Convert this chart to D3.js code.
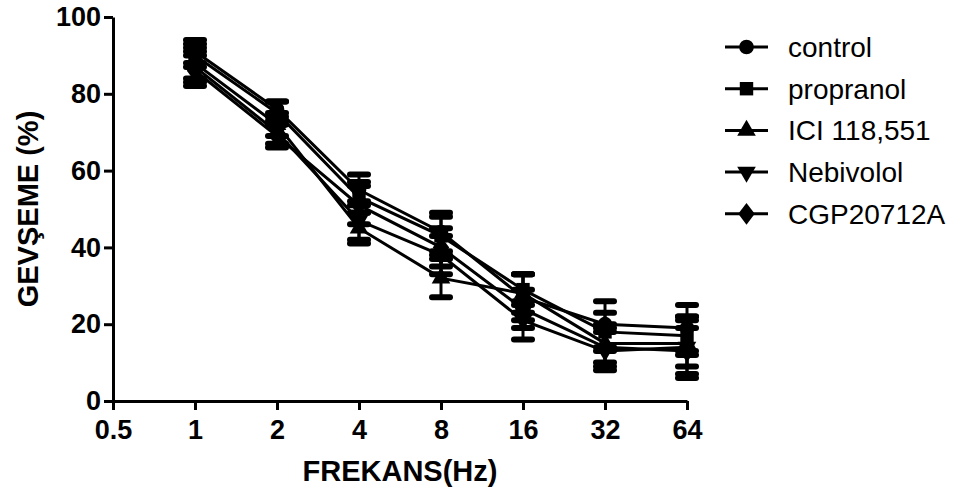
<!DOCTYPE html>
<html>
<head>
<meta charset="utf-8">
<script src="https://cdn.jsdelivr.net/npm/d3@7"></script>
<style>
  body { margin: 0; background: #fff; }
  text { font-family: Arial, "Liberation Sans", sans-serif; }
  .tick text { font-weight: bold; font-size: 27px; }
  .axisTitle { font-weight: bold; font-size: 29px; }
  .legendText { font-size: 28px; }
</style>
</head>
<body>
<div class="chart"></div>
<script>
// Data
let frequencies = [1, 2, 4, 8, 16, 32, 64];
let xTicks = [0.5, 1, 2, 4, 8, 16, 32, 64];
let yTicks = [0, 20, 40, 60, 80, 100];

let seriesNames = ["control", "propranol", "ICI 118,551", "Nebivolol", "CGP20712A"];
let seriesSymbols = ["circle", "square", "triangleUp", "triangleDown", "diamond"];

let controlMean = [91, 76, 55, 44, 27, 20, 19];
let controlErr = [3, 2, 4, 5, 6, 6, 6];
let propranolMean = [90, 75, 53, 43, 29, 18, 17];
let propranolErr = [3, 3, 4, 5, 4, 5, 5];
let iciMean = [88, 72, 45, 32, 28, 15, 15];
let iciErr = [4, 3, 4, 5, 5, 5, 6];
let nebivololMean = [87, 70, 47, 38, 21, 13, 14];
let nebivololErr = [4, 3, 5, 5, 5, 5, 8];
let cgpMean = [86, 69, 51, 40, 24, 14, 13];
let cgpErr = [4, 3, 5, 5, 5, 5, 6];

let means = [controlMean, propranolMean, iciMean, nebivololMean, cgpMean];
let errs = [controlErr, propranolErr, iciErr, nebivololErr, cgpErr];

// Set up chart
let svgWidth = 970;
let svgHeight = 496;
let margin = { top: 17, right: 283, bottom: 95, left: 113 };
let chartWidth = svgWidth - margin.left - margin.right;
let chartHeight = svgHeight - margin.top - margin.bottom;

let svg = d3.select(".chart")
  .append("svg")
  .attr("width", svgWidth)
  .attr("height", svgHeight);

let chart = svg.append("g")
  .attr("transform", `translate(${margin.left}, ${margin.top})`);

// Scales
let xScale = d3.scaleLog().base(2).domain([0.5, 64]).range([0, chartWidth]);
let yScale = d3.scaleLinear().domain([0, 100]).range([chartHeight, 0]);

let symbolTypes = {
  circle: d3.symbolCircle,
  square: d3.symbolSquare,
  triangleUp: d3.symbolTriangle,
  triangleDown: d3.symbolTriangle,
  diamond: d3.symbolDiamond
};
let symbolSizes = { circle: 170, square: 180, triangleUp: 150, triangleDown: 150, diamond: 150 };

function symbolPath(name) {
  return d3.symbol().type(symbolTypes[name]).size(symbolSizes[name])();
}
function symbolTransform(name, x, y) {
  let t = `translate(${x},${y})`;
  if (name === "triangleDown") t += " rotate(180)";
  if (name === "diamond") t += " scale(1.25,0.95)";
  return t;
}

let line = d3.line()
  .x((d, i) => xScale(frequencies[i]))
  .y(d => yScale(d));

// Error bars
means.forEach(function(series, s) {
  let g = chart.append("g");
  series.forEach(function(m, i) {
    let x = xScale(frequencies[i]);
    let top = yScale(m + errs[s][i]);
    let bottom = yScale(m - errs[s][i]);
    g.append("line")
      .attr("x1", x).attr("x2", x)
      .attr("y1", top).attr("y2", bottom)
      .attr("stroke", "#000").attr("stroke-width", 3);
    [top, bottom].forEach(function(y) {
      g.append("line")
        .attr("x1", x - 9).attr("x2", x + 9)
        .attr("y1", y).attr("y2", y)
        .attr("stroke", "#000").attr("stroke-width", 6)
        .attr("stroke-linecap", "round");
    });
  });
});

// Lines
means.forEach(function(series) {
  chart.append("path")
    .datum(series)
    .attr("d", line)
    .attr("fill", "none")
    .attr("stroke", "#000")
    .attr("stroke-width", 3);
});

// Markers
means.forEach(function(series, s) {
  chart.selectAll(null)
    .data(series)
    .enter().append("path")
    .attr("d", symbolPath(seriesSymbols[s]))
    .attr("transform", (d, i) => symbolTransform(seriesSymbols[s], xScale(frequencies[i]), yScale(d)))
    .attr("fill", "#000");
});

// Axes
let xAxis = chart.append("g")
  .attr("transform", `translate(0, ${chartHeight})`)
  .call(d3.axisBottom(xScale).tickValues(xTicks).tickFormat(d3.format("")).tickSize(9).tickSizeOuter(0).tickPadding(10));

let yAxis = chart.append("g")
  .call(d3.axisLeft(yScale).tickValues(yTicks).tickSize(9).tickSizeOuter(0).tickPadding(3));

[xAxis, yAxis].forEach(function(ax) {
  ax.select(".domain").attr("stroke-width", 3);
  ax.selectAll(".tick line").attr("stroke-width", 3);
  ax.selectAll(".tick text").attr("fill", "#000");
});
xAxis.select(".tick line").attr("y1", -8);

// Axis titles
svg.append("text")
  .attr("class", "axisTitle")
  .attr("transform", `translate(38, ${margin.top + chartHeight / 2}) rotate(-90)`)
  .attr("text-anchor", "middle")
  .text("GEVŞEME (%)");

svg.append("text")
  .attr("class", "axisTitle")
  .attr("x", margin.left + chartWidth / 2)
  .attr("y", 481)
  .attr("text-anchor", "middle")
  .text("FREKANS(Hz)");

// Legend
let legend = svg.append("g").attr("transform", "translate(725, 47)");
seriesNames.forEach(function(name, i) {
  let y = i * 41.7;
  legend.append("line")
    .attr("x1", 0).attr("x2", 43)
    .attr("y1", y).attr("y2", y)
    .attr("stroke", "#000").attr("stroke-width", 3);
  legend.append("path")
    .attr("d", symbolPath(seriesSymbols[i]))
    .attr("transform", symbolTransform(seriesSymbols[i], 21.5, y))
    .attr("fill", "#000");
  legend.append("text")
    .attr("class", "legendText")
    .attr("x", 63)
    .attr("y", y + 10)
    .text(name);
});
</script>
</body>
</html>
